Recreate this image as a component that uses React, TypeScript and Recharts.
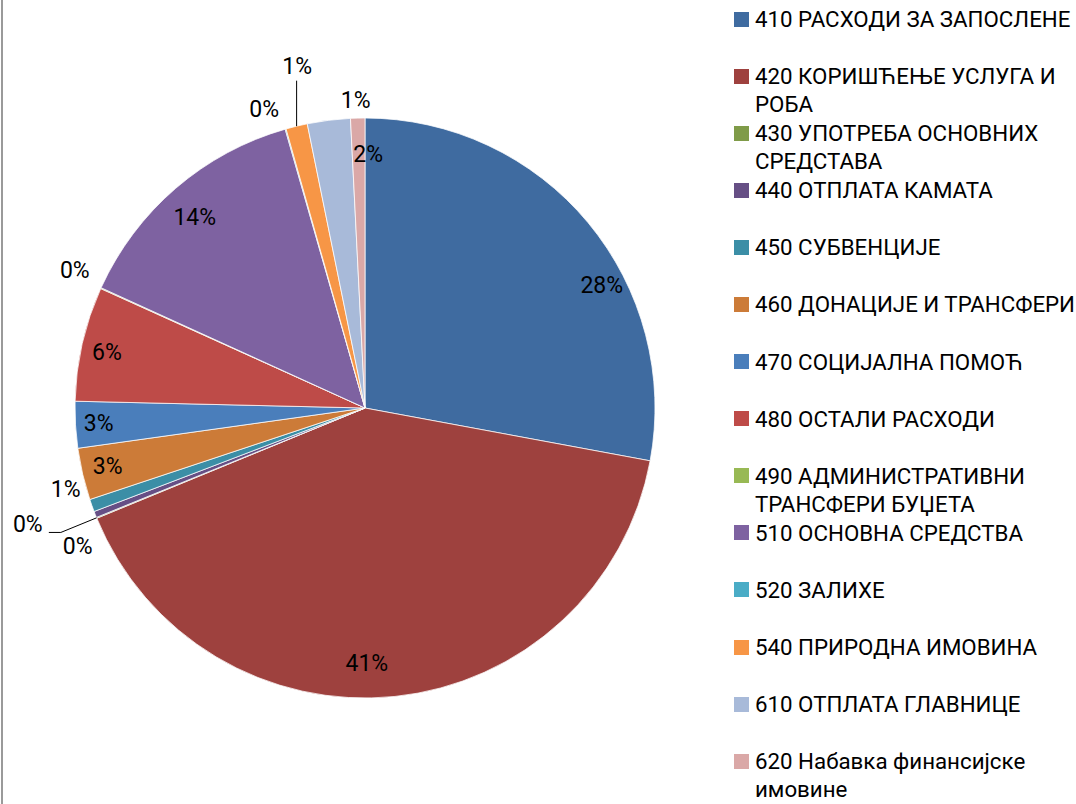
import React from 'react';
import { PieChart, Pie, Cell, Legend } from 'recharts';

const CATEGORIES = [
  '410 РАСХОДИ ЗА ЗАПОСЛЕНЕ',
  '420 КОРИШЋЕЊЕ УСЛУГА И РОБА',
  '430 УПОТРЕБА ОСНОВНИХ СРЕДСТАВА',
  '440 ОТПЛАТА КАМАТА',
  '450 СУБВЕНЦИЈЕ',
  '460 ДОНАЦИЈЕ И ТРАНСФЕРИ',
  '470 СОЦИЈАЛНА ПОМОЋ',
  '480 ОСТАЛИ РАСХОДИ',
  '490 АДМИНИСТРАТИВНИ ТРАНСФЕРИ БУЏЕТА',
  '510 ОСНОВНА СРЕДСТВА',
  '520 ЗАЛИХЕ',
  '540 ПРИРОДНА ИМОВИНА',
  '610 ОТПЛАТА ГЛАВНИЦЕ',
  '620 Набавка финансијске имовине',
];

const VALUES = [28, 41, 0.05, 0.35, 0.7, 2.9, 2.6, 6.4, 0.05, 13.8, 0.05, 1.2, 2.4, 0.8];

const COLORS = [
  '#3F6BA0', '#9E413E', '#7F9B48', '#664F85', '#3B8EA6', '#CC7B38', '#4A7EBB',
  '#BE4B48', '#98B954', '#7E62A1', '#4AACC6', '#F79646', '#A8BAD9', '#DAA8A7',
];

// label placement: radial factor (x outer radius) and angular nudge (deg)
const LABEL_LAYOUT = [
  { f: 0.92, da: -12.3 },
  { f: 0.88, da: -5.5 },
  { f: 1.23, da: -3.2, leader: 'elbow' },
  { f: 1.1, da: 4.2 },
  { f: 1.07, da: -4.35 },
  { f: 0.91, da: -0.3 },
  { f: 0.92, da: 0.1 },
  { f: 0.91, da: 0.8 },
  { f: 1.107, da: -0.9 },
  { f: 0.88, da: 1.1 },
  { f: 1.086, da: 2.8 },
  { f: 1.2, da: -2.4, leader: 'vertical' },
  { f: 0.873, da: -7.9 },
  { f: 1.062, da: 0.3 },
];

const data = CATEGORIES.map((name, i) => ({ name, value: VALUES[i] }));

const FONT = 'Roboto, "Noto Sans", sans-serif';
const RAD = Math.PI / 180;

const renderLabel = (props: any) => {
  const { cx, cy, midAngle, outerRadius, percent, index } = props;
  const lay = LABEL_LAYOUT[index];
  const a = (midAngle + lay.da) * RAD;
  const r = outerRadius * lay.f;
  const x = cx + r * Math.cos(a);
  const y = cy - r * Math.sin(a);
  const ex = cx + outerRadius * Math.cos(midAngle * RAD);
  const ey = cy - outerRadius * Math.sin(midAngle * RAD);
  let leader = null;
  if (lay.leader === 'elbow') {
    leader = (
      <polyline
        points={`${x + 21},${y + 8} ${x + 33},${y + 8} ${ex},${ey}`}
        fill="none"
        stroke="#000"
        strokeWidth={1}
      />
    );
  } else if (lay.leader === 'vertical') {
    leader = <line x1={ex} y1={ey} x2={ex} y2={y + 14} stroke="#000" strokeWidth={1} />;
  }
  return (
    <g key={`lbl-${index}`}>
      {leader}
      <text
        x={x}
        y={y}
        textAnchor="middle"
        dominantBaseline="central"
        fontFamily={FONT}
        fontSize={23}
        fill="#000"
      >
        {`${Math.round(percent * 100)}%`}
      </text>
    </g>
  );
};

const renderLegend = () => (
  <div style={{ fontFamily: FONT, fontSize: 22.3, color: '#000' }}>
    {CATEGORIES.map((name, i) => (
      <div key={name} style={{ height: 57.1, display: 'flex', alignItems: 'flex-start' }}>
        <div
          style={{
            width: 15,
            height: 15,
            background: COLORS[i],
            marginTop: 6.5,
            marginRight: 6,
            flex: '0 0 auto',
          }}
        />
        <div style={{ lineHeight: '28px', width: 330, flex: '0 0 auto' }}>{name}</div>
      </div>
    ))}
  </div>
);

export default function App() {
  return (
    <div style={{ position: 'absolute', left: 0, top: 0, width: 1076, height: 804, background: '#fff', overflow: 'hidden' }}>
      <div style={{ position: 'absolute', left: 1, top: 0, width: 2, height: 804, background: '#9a9a9a' }} />
      <PieChart width={1076} height={804} margin={{ top: 0, right: 0, bottom: 0, left: 0 }}>
        <Pie
          data={data}
          dataKey="value"
          nameKey="name"
          cx={365}
          cy={408}
          outerRadius={290}
          startAngle={90}
          endAngle={-270}
          stroke="#fff"
          strokeWidth={0.75}
          label={renderLabel}
          labelLine={false}
          isAnimationActive={false}
        >
          {data.map((d, i) => (
            <Cell key={d.name} fill={COLORS[i]} />
          ))}
        </Pie>
        <Legend
          layout="vertical"
          align="right"
          verticalAlign="top"
          content={renderLegend}
          wrapperStyle={{ left: 734, top: 5, width: 342 }}
        />
      </PieChart>
    </div>
  );
}
